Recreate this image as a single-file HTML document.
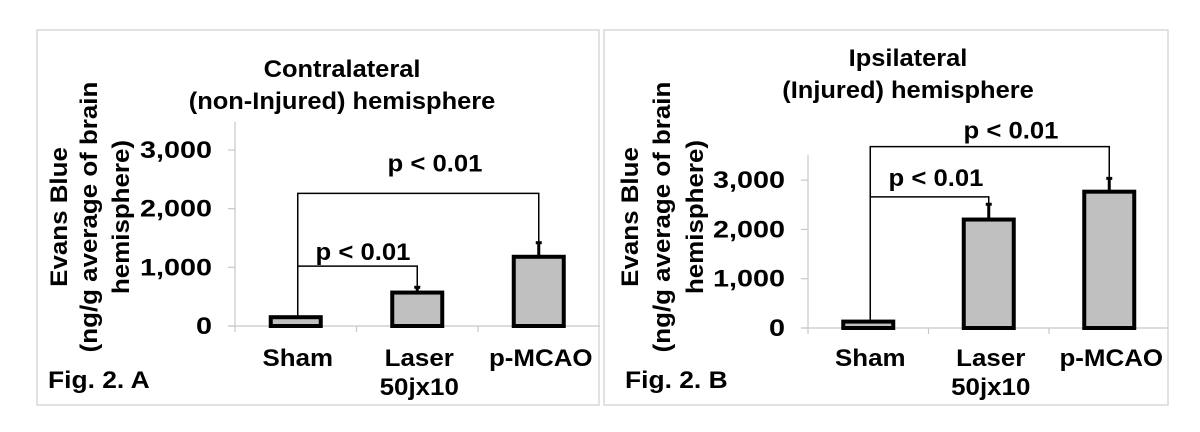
<!DOCTYPE html>
<html><head><meta charset="utf-8"><style>
html,body{margin:0;padding:0;background:#fff;}
svg{display:block;font-family:"Liberation Sans",Arial,sans-serif;font-weight:bold;}
</style></head><body>
<svg id="fig" width="1200" height="432" viewBox="0 0 1200 432"></svg>
<script>
const categories = ["Sham", "Laser|50jx10", "p-MCAO"];
const valuesA = [150, 570, 1180];
const errorsA = [0, 90, 240];
const valuesB = [130, 2200, 2765];
const errorsB = [0, 310, 270];
const tickValues = [0, 1000, 2000, 3000];
const tickLabels = ["0", "1,000", "2,000", "3,000"];
const bracketsA = [2260, 1020];
const bracketsB = [3680, 2660];

const NS = "http://www.w3.org/2000/svg";
const svg = document.getElementById("fig");
function mk(tag, attrs, parent, text) {
  const e = document.createElementNS(NS, tag);
  for (const k in attrs) e.setAttribute(k, attrs[k]);
  if (text !== undefined) e.textContent = text;
  (parent || svg).appendChild(e);
  return e;
}
function txt(parent, x, y, s, size, sx, anchor, rot) {
  const tr = `translate(${x},${y})` + (rot ? " rotate(-90)" : "") + ` scale(${sx},1)`;
  return mk("text", {x: 0, y: 0, transform: tr, "text-anchor": anchor, "font-size": size}, parent, s);
}

function panel(cfg) {
  const g = mk("g", {});
  
  
  const box = mk("rect", {x: cfg.box[0], y: cfg.box[1], width: cfg.box[2], height: cfg.box[3], fill: "none", stroke: "#d8d8d8", "stroke-width": 1.5}, g);
  
  
  const y = v => cfg.y0 - v * cfg.k;
  const cx = i => cfg.ax + cfg.cw * (i + 0.5);
  cfg.title.forEach((t, i) => {
    const e = txt(g, cfg.titleX, cfg.titleY[i], t, 24, 1.06, "middle");
    
    
  });
  const ylines = ["Evans Blue", "(ng/g average of brain", "hemisphere)"];
  ylines.forEach((t, i) => {
    const e = txt(g, cfg.ytX[i] + 9, 217, t, 24, 1.08, "middle", true);
    
    
  });
  const ya = mk("line", {x1: cfg.ax, x2: cfg.ax, y1: cfg.axTop, y2: cfg.y0 + 6, stroke: "#c8c8c8", "stroke-width": 1.2}, g);
  
  
  const xa = mk("line", {x1: cfg.ax - 7, x2: cfg.axRight, y1: cfg.y0, y2: cfg.y0, stroke: "#c8c8c8", "stroke-width": 1.2}, g);
  
  
  tickValues.forEach((v, i) => {
    mk("line", {x1: cfg.ax - 7, x2: cfg.ax, y1: y(v), y2: y(v), stroke: "#c8c8c8", "stroke-width": 1.2}, g);
    const t = txt(g, cfg.tickX, y(v) + 8, tickLabels[i], 24, 1.2, "end");
    
    
  });
  for (let i = 1; i < categories.length; i++) {
    mk("line", {x1: cfg.ax + cfg.cw * i, x2: cfg.ax + cfg.cw * i, y1: cfg.y0, y2: cfg.y0 + 6, stroke: "#c8c8c8", "stroke-width": 1.2}, g);
  }
  cfg.values.forEach((v, i) => {
    const bw = 50;
    const b = mk("rect", {x: cx(i) - bw / 2, y: y(v), width: bw, height: cfg.y0 - y(v), fill: "#c0c0c0", stroke: "#000", "stroke-width": 4}, g);
    
    
    if (cfg.errors[i] > 0) {
      const e = mk("line", {x1: cx(i), x2: cx(i), y1: y(v), y2: y(v + cfg.errors[i]), stroke: "#000", "stroke-width": 3}, g);
      
      
      mk("line", {x1: cx(i) - 3, x2: cx(i) + 3, y1: y(v + cfg.errors[i]), y2: y(v + cfg.errors[i]), stroke: "#000", "stroke-width": 3}, g);
    }
    const parts = categories[i].split("|");
    parts.forEach((p, j) => {
      const t = txt(g, cx(i) + 2, 366 + j * 29, p, 24, 1.08, "middle");
      
      
    });
  });
  const targets = [2, 1];
  cfg.brackets.forEach((bv, j) => {
    const ti = targets[j];
    const top = cfg.values[ti] + cfg.errors[ti];
    const lx = cx(0) + 2;
    const rx = cx(ti);
    const p = mk("path", {d: `M${lx},${y(cfg.values[0])} V${y(bv)} H${rx} V${y(top)}`, fill: "none", stroke: "#000", "stroke-width": 1.5}, g);
    
    
    const t = txt(g, cfg.pX[j], y(bv) - cfg.pOff[j], "p < 0.01", 24, 1.07, "middle");
    
    
  });
  const f = txt(g, cfg.figX, 388, cfg.fig, 24, 1.1, "start");
  
  
}

panel({name: "panel-a", box: [37, 30, 562, 375], y0: 326, k: 0.05867, ax: 235, axTop: 122, axRight: 600, cw: 121.5,
  values: valuesA, errors: errorsA, brackets: bracketsA,
  title: ["Contralateral", "(non-Injured) hemisphere"], titleX: 342, titleY: [77, 109],
  ytX: [58, 88, 120], tickX: 212, pX: [435, 363], pOff: [22, 6], fig: "Fig. 2. A", figX: 48});
panel({name: "panel-b", box: [604, 30, 564, 375], y0: 328, k: 0.0493, ax: 808, axTop: 155, axRight: 1168, cw: 120.5,
  values: valuesB, errors: errorsB, brackets: bracketsB,
  title: ["Ipsilateral", "(Injured) hemisphere"], titleX: 908, titleY: [66, 98],
  ytX: [629, 661, 694], tickX: 785, pX: [1011, 936], pOff: [8, 11], fig: "Fig. 2. B", figX: 625});
</script>
</body></html>
